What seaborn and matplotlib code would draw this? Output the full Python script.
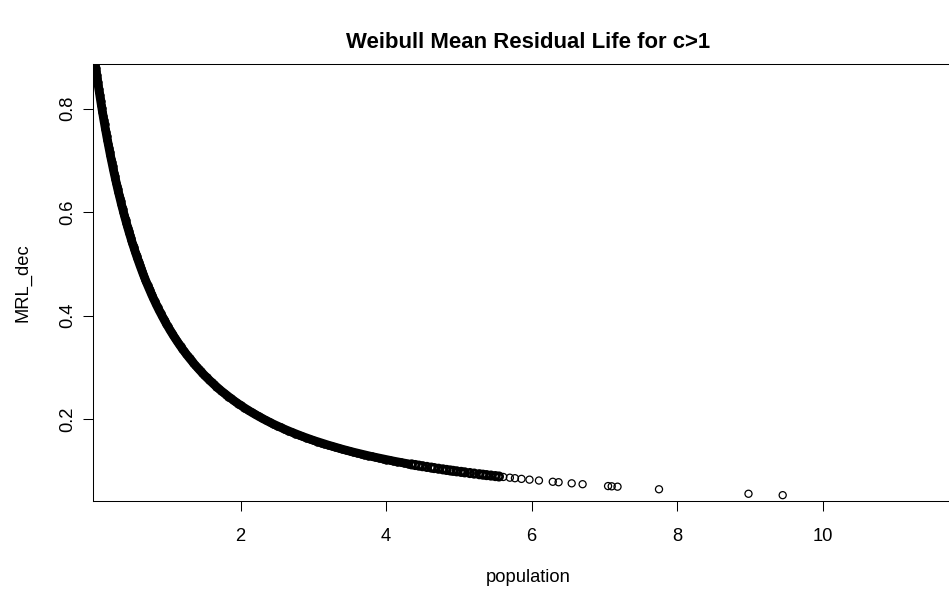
import matplotlib
matplotlib.use("Agg")
import matplotlib.pyplot as plt
import seaborn as sns
import pandas as pd

# Dense part of the cloud (population, MRL_dec) read along the solid band
population_band = [
    0.000, 0.007, 0.014, 0.021, 0.028, 0.035, 0.042, 0.049, 0.056, 0.063,
    0.070, 0.077, 0.084, 0.091, 0.100,
    0.11, 0.12, 0.13, 0.14, 0.15, 0.16, 0.17, 0.18, 0.19, 0.20,
    0.21, 0.22, 0.23, 0.24, 0.25, 0.26, 0.27, 0.28, 0.29, 0.30,
    0.31, 0.32, 0.33, 0.34, 0.35, 0.36, 0.37, 0.38, 0.39, 0.40,
    0.41, 0.42, 0.43, 0.44, 0.45, 0.46, 0.47, 0.48, 0.49, 0.50,
    0.51, 0.52, 0.53, 0.54, 0.55, 0.56, 0.57, 0.58, 0.59, 0.60,
    0.615, 0.63, 0.645, 0.66, 0.675, 0.69, 0.705, 0.72, 0.735, 0.75,
    0.765, 0.78, 0.80, 0.82, 0.84, 0.86, 0.88, 0.90, 0.92, 0.94,
    0.96, 0.98, 1.00,
    1.025, 1.05, 1.075, 1.10, 1.125, 1.15, 1.175, 1.20, 1.225, 1.25,
    1.275, 1.30, 1.325, 1.35, 1.375, 1.40, 1.425, 1.45, 1.475, 1.50,
    1.533, 1.567, 1.60, 1.633, 1.667, 1.70, 1.733, 1.767, 1.80, 1.833,
    1.867, 1.90, 1.933, 1.967, 2.00,
    2.05, 2.10, 2.15, 2.20, 2.25, 2.30, 2.35, 2.40, 2.45, 2.50,
    2.55, 2.60, 2.65, 2.70, 2.75, 2.80, 2.85, 2.90, 2.95, 3.00,
    3.05, 3.10, 3.15, 3.20, 3.25, 3.30, 3.35, 3.40, 3.45, 3.50,
    3.55, 3.60, 3.65, 3.70, 3.75, 3.80, 3.85, 3.90, 3.95, 4.00,
    4.05, 4.10, 4.15, 4.20, 4.25, 4.30,
]
mrl_band = [
    0.8862, 0.8792, 0.8724, 0.8656, 0.8589, 0.8523, 0.8457, 0.8392, 0.8329, 0.8265,
    0.8203, 0.8141, 0.8081, 0.8020, 0.7944,
    0.7860, 0.7778, 0.7697, 0.7618, 0.7541, 0.7465, 0.7390, 0.7316, 0.7243, 0.7170,
    0.7100, 0.7031, 0.6962, 0.6894, 0.6827, 0.6762, 0.6698, 0.6635, 0.6572, 0.6510,
    0.6450, 0.6391, 0.6333, 0.6275, 0.6217, 0.6161, 0.6106, 0.6052, 0.5998, 0.5945,
    0.5893, 0.5842, 0.5792, 0.5742, 0.5692, 0.5644, 0.5596, 0.5549, 0.5502, 0.5456,
    0.5411, 0.5367, 0.5323, 0.5280, 0.5237, 0.5195, 0.5154, 0.5113, 0.5072, 0.5032,
    0.4973, 0.4915, 0.4858, 0.4803, 0.4749, 0.4696, 0.4644, 0.4592, 0.4542, 0.4492,
    0.4443, 0.4396, 0.4334, 0.4273, 0.4214, 0.4156, 0.4100, 0.4046, 0.3992, 0.3940,
    0.3888, 0.3838, 0.3789,
    0.3729, 0.3671, 0.3615, 0.3560, 0.3507, 0.3455, 0.3404, 0.3355, 0.3307, 0.3260,
    0.3214, 0.3170, 0.3127, 0.3084, 0.3043, 0.3002, 0.2963, 0.2924, 0.2887, 0.2850,
    0.2802, 0.2756, 0.2711, 0.2668, 0.2626, 0.2585, 0.2545, 0.2507, 0.2469, 0.2432,
    0.2397, 0.2362, 0.2328, 0.2295, 0.2263,
    0.2217, 0.2172, 0.2129, 0.2088, 0.2048, 0.2009, 0.1972, 0.1936, 0.1901, 0.1868,
    0.1835, 0.1804, 0.1774, 0.1745, 0.1717, 0.1689, 0.1662, 0.1636, 0.1611, 0.1586,
    0.1563, 0.1540, 0.1518, 0.1496, 0.1475, 0.1454, 0.1434, 0.1414, 0.1395, 0.1376,
    0.1358, 0.1341, 0.1324, 0.1307, 0.1290, 0.1274, 0.1259, 0.1244, 0.1229, 0.1214,
    0.1200, 0.1186, 0.1172, 0.1159, 0.1146, 0.1134,
]

# Thinning end of the band, where single rings start to show
population_edge = [
    4.35, 4.40, 4.45, 4.50, 4.56, 4.62, 4.66, 4.72, 4.78, 4.83,
    4.88, 4.92, 4.97, 5.03, 5.08, 5.15, 5.21, 5.28, 5.33, 5.38,
    5.44, 5.50, 5.55,
]
mrl_edge = [
    0.1121, 0.1109, 0.1097, 0.1086, 0.1072, 0.1059, 0.1050, 0.1037, 0.1025, 0.1014,
    0.1004, 0.0996, 0.0987, 0.0976, 0.0967, 0.0954, 0.0943, 0.0931, 0.0922, 0.0914,
    0.0905, 0.0895, 0.0887,
]

# Sparse tail: individual circles
population_tail = [5.61, 5.70, 5.77, 5.86, 5.97, 6.10, 6.29, 6.37, 6.55, 6.70,
                   7.05, 7.10, 7.18, 7.75, 8.98, 9.45]
mrl_tail = [0.0878, 0.0864, 0.0854, 0.0841, 0.0826, 0.0809, 0.0785, 0.0776, 0.0755, 0.0738,
            0.0702, 0.0697, 0.0690, 0.0640, 0.0553, 0.0526]

x_ticks = [2, 4, 6, 8, 10]
x_tick_labels = ["2", "4", "6", "8", "10"]
y_ticks = [0.2, 0.4, 0.6, 0.8]
y_tick_labels = ["0.2", "0.4", "0.6", "0.8"]
title_text = "Weibull Mean Residual Life for c>1"
x_label = "population"
y_label = "MRL_dec"

sns.set_style("ticks")
plt.rcParams["font.family"] = ["Liberation Sans", "DejaVu Sans"]

df = pd.DataFrame({
    "population": population_band + population_edge + population_tail,
    "MRL_dec": mrl_band + mrl_edge + mrl_tail,
    "part": (["band"] * len(population_band) + ["edge"] * len(population_edge)
             + ["tail"] * len(population_tail)),
})
band = df[df["part"] == "band"]

W, H = 949, 594
fig = plt.figure(figsize=(W / 100, H / 100), dpi=100)
fig.patch.set_facecolor("white")
left_px, right_px, top_px, bottom_px = 93.3, 962.4, 64, 501
ax = fig.add_axes([left_px / W, 1 - bottom_px / H,
                   (right_px - left_px) / W, (bottom_px - top_px) / H])
ax.set_facecolor("white")

# thousands of overlapping rings in the dense part merge into a solid band
sns.lineplot(data=band, x="population", y="MRL_dec", ax=ax, sort=False,
             estimator=None, color="black", linewidth=6.3,
             solid_capstyle="round", solid_joinstyle="round", legend=False)
sns.scatterplot(data=band, x="population", y="MRL_dec", ax=ax,
                marker="o", s=30, color="black", facecolor="black",
                edgecolor="black", linewidth=0.5, legend=False)
sns.scatterplot(data=df[df["part"] == "edge"], x="population", y="MRL_dec", ax=ax,
                marker="o", s=28, color="black", facecolor="none",
                edgecolor="black", linewidth=2.0, legend=False)
sns.scatterplot(data=df[df["part"] == "tail"], x="population", y="MRL_dec", ax=ax,
                marker="o", s=26, color="black", facecolor="none",
                edgecolor="black", linewidth=0.9, legend=False)

ax.set_xlim(-0.025, 11.92)
ax.set_ylim(0.0413, 0.8866)

for side in ["top", "left", "bottom"]:
    ax.spines[side].set_visible(True)
    ax.spines[side].set_color("black")
    ax.spines[side].set_linewidth(0.75)
ax.spines["right"].set_visible(False)

fs = 13.25
ax.set_xticks(x_ticks)
ax.set_xticklabels(x_tick_labels)
ax.set_yticks(y_ticks)
ax.set_yticklabels(y_tick_labels)
ax.tick_params(axis="both", direction="out", length=7.5, width=0.75,
               color="black", labelsize=fs, labelcolor="black")
ax.tick_params(axis="x", pad=12)
ax.tick_params(axis="y", pad=5, labelrotation=90)
for t in ax.get_yticklabels():
    t.set_verticalalignment("center")

ax.set_xlabel(x_label, fontsize=fs, labelpad=17.5, color="black")
ax.set_ylabel(y_label, fontsize=fs, labelpad=20, color="black")

fig.text((left_px + right_px) / 2 / W, 1 - 48 / H, title_text,
         ha="center", va="baseline", fontsize=15.9, fontweight="bold",
         color="black")

fig.savefig("out.png", dpi=100, facecolor="white")
